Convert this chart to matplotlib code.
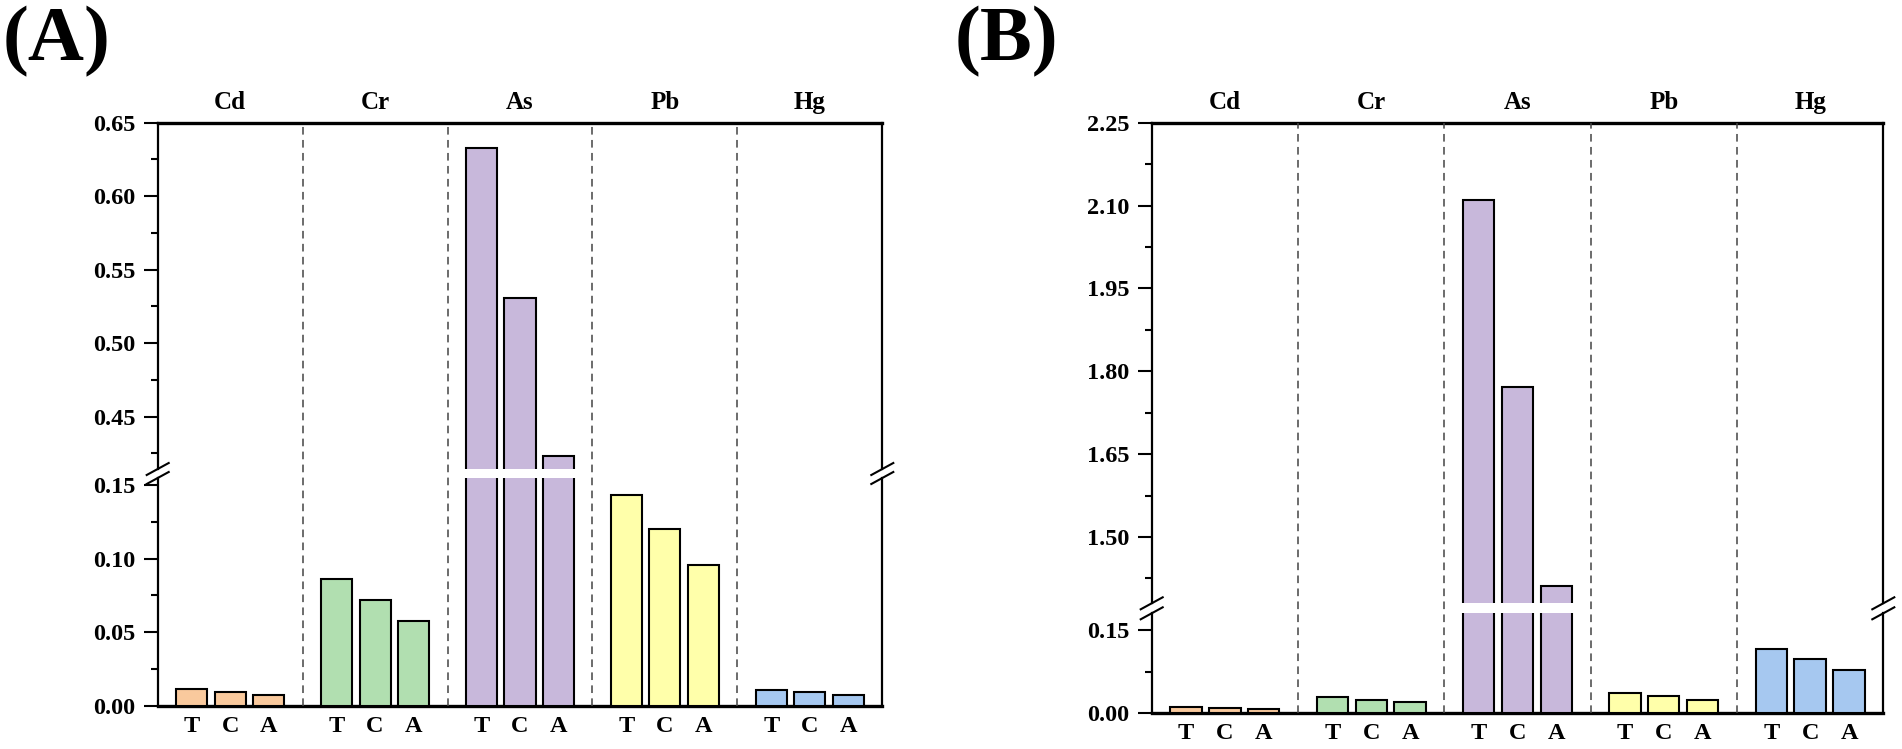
import numpy as np
import matplotlib
matplotlib.use("Agg")
import matplotlib.pyplot as plt
from matplotlib.lines import Line2D
from matplotlib.ticker import MultipleLocator, AutoMinorLocator, FormatStrFormatter
from matplotlib.transforms import blended_transform_factory

# data
metals = ["Cd", "Cr", "As", "Pb", "Hg"]
routes = ["T", "C", "A"]
colors = ["#F9C99D", "#B1DFB0", "#C8B8DB", "#FFFFAA", "#A6C8F0"]

vals_a = {
    "Cd": [0.0115, 0.0095, 0.0075],
    "Cr": [0.086, 0.072, 0.0575],
    "As": [0.633, 0.531, 0.423],
    "Pb": [0.143, 0.120, 0.096],
    "Hg": [0.011, 0.0093, 0.0075],
}
vals_b = {
    "Cd": [0.0119, 0.010, 0.0077],
    "Cr": [0.030, 0.0245, 0.020],
    "As": [2.11, 1.771, 1.412],
    "Pb": [0.0366, 0.031, 0.0245],
    "Hg": [0.1158, 0.097, 0.078],
}

plt.rcParams['font.family'] = ['Liberation Serif', 'DejaVu Serif']
plt.rcParams['font.weight'] = 'bold'

W, H = 1902, 749
fig = plt.figure(figsize=(W / 100, H / 100), dpi=100)

offsets = np.array([-0.266, 0.0, 0.266])
bar_w = 0.214
fs = 17.5


def panel(left, width, low_y, low_h, up_y, up_h, vals, low_lim, up_lim, step, letter, letter_x):
    ax_lo = fig.add_axes([left / W, (H - low_y) / H, width / W, low_h / H])
    ax_up = fig.add_axes([left / W, (H - up_y) / H, width / W, up_h / H])

    xs_all, labs_all = [], []
    for i, m in enumerate(metals):
        xs = i + offsets
        for ax in (ax_lo, ax_up):
            ax.bar(xs, vals[m], width=bar_w, color=colors[i], edgecolor="black",
                   linewidth=1.5, zorder=3)
        xs_all += list(xs)
        labs_all += routes

    for ax, lim in ((ax_lo, low_lim), (ax_up, up_lim)):
        ax.set_xlim(-0.5, 4.5)
        ax.set_ylim(*lim)
        ax.yaxis.set_major_locator(MultipleLocator(step))
        ax.yaxis.set_minor_locator(AutoMinorLocator(2))
        ax.yaxis.set_major_formatter(FormatStrFormatter("%.2f"))
        ax.tick_params(axis="y", which="major", direction="out", length=10, width=1.5,
                       labelsize=fs, pad=6)
        ax.tick_params(axis="y", which="minor", direction="out", length=5, width=1.5)
        for s in ("left", "right"):
            ax.spines[s].set_linewidth(1.6)

    ax_lo.spines["top"].set_visible(False)
    ax_lo.spines["bottom"].set_linewidth(2.4)
    ax_lo.set_xticks(xs_all)
    ax_lo.set_xticklabels(labs_all)
    ax_lo.tick_params(axis="x", length=0, labelsize=fs, pad=7)

    ax_up.spines["bottom"].set_visible(False)
    ax_up.spines["top"].set_linewidth(2.4)
    ax_up.set_xticks(range(len(metals)))
    ax_up.set_xticklabels(metals)
    ax_up.tick_params(axis="x", top=True, labeltop=True, bottom=False, labelbottom=False,
                      length=0, labelsize=18, pad=6)

    # dashed separators running through both parts
    y0 = ax_lo.get_position().y0
    y1 = ax_up.get_position().y1
    tr = blended_transform_factory(ax_lo.transData, fig.transFigure)
    for b in np.arange(0.5, len(metals) - 0.5, 1.0):
        fig.add_artist(Line2D([b, b], [y0, y1], transform=tr, color="#444444",
                              linewidth=1.1, linestyle=(0, (5, 3.5)), zorder=1))

    # break marks on both side spines
    g_lo = ax_lo.get_position().y1
    g_up = ax_up.get_position().y0
    dx, dy = 11 / W, 6 / H
    for x in (ax_lo.get_position().x0, ax_lo.get_position().x1):
        for yc in (g_lo, g_up):
            fig.add_artist(Line2D([x - dx, x + dx], [yc - dy, yc + dy],
                                  transform=fig.transFigure, color="black", linewidth=1.5))

    fig.text(letter_x / W, 1 - 6 / H, letter, fontsize=56, fontweight="bold",
             ha="left", va="top")


panel(157.7, 724.6, 706, 228, 469, 346.3, vals_a, (0, 0.1547), (0.4144, 0.65), 0.05,
      "(A)", 3)
panel(1151.7, 731.6, 713.3, 100, 603.3, 480.6, vals_b, (0, 0.18), (1.38, 2.25), 0.15,
      "(B)", 955)

fig.savefig("out.png", dpi=100)
